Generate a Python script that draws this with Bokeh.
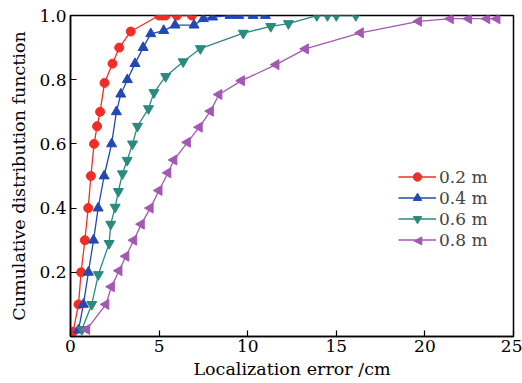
import math
from bokeh.plotting import figure
from bokeh.models import FixedTicker, PrintfTickFormatter, Legend, LegendItem, Label, ColumnDataSource
from bokeh.embed import file_html
from bokeh.resources import INLINE

# ---- data ----
x_red = [0.15, 0.45, 0.6, 0.81, 1.0, 1.15, 1.33, 1.5, 1.67, 1.92, 2.37, 2.75, 3.4, 5.0, 5.18, 5.37, 6.0, 6.85]
y_red = [0.015, 0.1, 0.2, 0.3, 0.4, 0.5, 0.6, 0.655, 0.7, 0.79, 0.85, 0.9, 0.95, 1.0, 1.0, 1.0, 1.0, 1.0]

x_blue = [0.45, 0.73, 1.01, 1.3, 1.56, 1.9, 2.32, 2.59, 2.84, 3.21, 3.64, 4.1, 4.53, 5.26, 5.9, 6.97, 7.5, 8.02, 9.0, 9.5, 10.3, 11.0]
y_blue = [0.02, 0.1, 0.2, 0.3, 0.4, 0.5, 0.6, 0.7, 0.755, 0.8, 0.85, 0.9, 0.943, 0.953, 0.97, 0.97, 0.99, 0.995, 1.0, 1.0, 1.0, 1.0]

x_teal = [0.64, 1.2, 1.57, 2.18, 2.27, 2.52, 2.70, 2.93, 3.2, 3.5, 3.78, 4.4, 4.71, 5.37, 6.36, 7.33, 9.75, 11.3, 12.3, 13.9, 14.5, 15.0, 16.1]
y_teal = [0.022, 0.1, 0.193, 0.29, 0.35, 0.403, 0.452, 0.507, 0.549, 0.6, 0.655, 0.71, 0.76, 0.81, 0.856, 0.897, 0.945, 0.966, 0.975, 1.0, 1.0, 1.0, 1.0]

x_purple = [0.92, 2.0, 2.31, 2.74, 3.13, 3.57, 4.0, 4.5, 5.0, 5.5, 5.84, 6.6, 7.27, 7.9, 8.38, 9.65, 11.6, 13.26, 16.36, 19.65, 21.44, 22.47, 23.5, 24.07]
y_purple = [0.022, 0.1, 0.155, 0.205, 0.25, 0.3, 0.35, 0.4, 0.455, 0.51, 0.55, 0.605, 0.652, 0.702, 0.754, 0.797, 0.847, 0.896, 0.946, 0.982, 0.99, 0.99, 0.99, 0.99]

series_names = ["0.2 m", "0.4 m", "0.6 m", "0.8 m"]
x_ticks = [0, 5, 10, 15, 20, 25]
y_ticks = [0.2, 0.4, 0.6, 0.8, 1.0]
x_label = "Localization error /cm"
y_label = "Cumulative distribution function"

FONT = "DejaVu Serif"

p = figure(frame_width=443, frame_height=321, x_range=(0, 25), y_range=(0, 1.0),
           output_backend="svg", toolbar_location=None,
           min_border_left=70, min_border_right=9, min_border_top=15, min_border_bottom=47)
p.xgrid.visible = False
p.ygrid.visible = False
p.outline_line_color = "black"
p.outline_line_width = 1.5
p.outline_line_alpha = 1.0

for ax in (p.xaxis[0], p.yaxis[0]):
    ax.axis_line_width = 1.5
    ax.axis_line_color = "black"
    ax.major_tick_in = 6
    ax.major_tick_out = 0
    ax.minor_tick_in = 0
    ax.minor_tick_out = 0
    ax.major_tick_line_width = 1.2
    ax.major_label_text_font = FONT
    ax.major_label_text_font_size = "17px"
    ax.major_label_text_color = "black"
    ax.axis_label_text_font = FONT
    ax.axis_label_text_font_size = "17.5px"
    ax.axis_label_text_font_style = "normal"
    ax.axis_label_text_color = "black"

p.xaxis.ticker = FixedTicker(ticks=x_ticks)
p.yaxis.ticker = FixedTicker(ticks=y_ticks)
p.yaxis.formatter = PrintfTickFormatter(format="%.1f")
p.xaxis.axis_label = x_label
p.yaxis.axis_label = y_label
p.xaxis.major_label_standoff = 3
p.xaxis.axis_label_standoff = 4
p.yaxis.major_label_standoff = 4
p.yaxis.axis_label_standoff = 7

colors = ["#ef2f27", "#2148b4", "#2a8a7e", "#a458b4"]
xs = [x_red, x_blue, x_teal, x_purple]
ys = [y_red, y_blue, y_teal, y_purple]
markers = ["circle", "triangle", "inverted_triangle", "triangle"]
angles = [0, 0, 0, math.pi / 2]
sizes = [9, 10, 10, 10]

LEG_X, LEG_Y, ROW_H, GLYPH_W = 328, 86, 21, 38

items = []
for i, (name, c, xv, yv, m, a, s) in enumerate(zip(series_names, colors, xs, ys, markers, angles, sizes)):
    src = ColumnDataSource(dict(x=xv, y=yv, ang=[a] * len(xv)))
    r1 = p.line("x", "y", source=src, line_color=c, line_width=1.3)
    r2 = p.scatter("x", "y", source=src, marker=m, angle="ang", size=s, fill_color=c, line_color=c)
    if a == 0:
        items.append(LegendItem(label=name, renderers=[r1, r2]))
    else:
        # legend glyphs ignore marker rotation: line only, rotated marker overlaid as a symbol
        items.append(LegendItem(label=name, renderers=[r1]))
        row_center = LEG_Y + (len(series_names) - i - 1) * ROW_H + ROW_H / 2
        p.add_layout(Label(x=LEG_X + GLYPH_W / 2, y=row_center, x_units="screen", y_units="screen",
                           text="\u25C0", text_align="center", text_baseline="middle",
                           text_font="DejaVu Sans", text_font_size="12px", text_color=c,
                           level="overlay"))

legend = Legend(items=items, location=(LEG_X, LEG_Y), padding=0, margin=0, spacing=0,
                glyph_width=GLYPH_W, glyph_height=ROW_H, label_height=ROW_H, label_standoff=3,
                label_text_font=FONT, label_text_font_size="17px",
                border_line_color=None, background_fill_alpha=0.0)
p.add_layout(legend)

open("out.html", "w").write(file_html(p, INLINE))
